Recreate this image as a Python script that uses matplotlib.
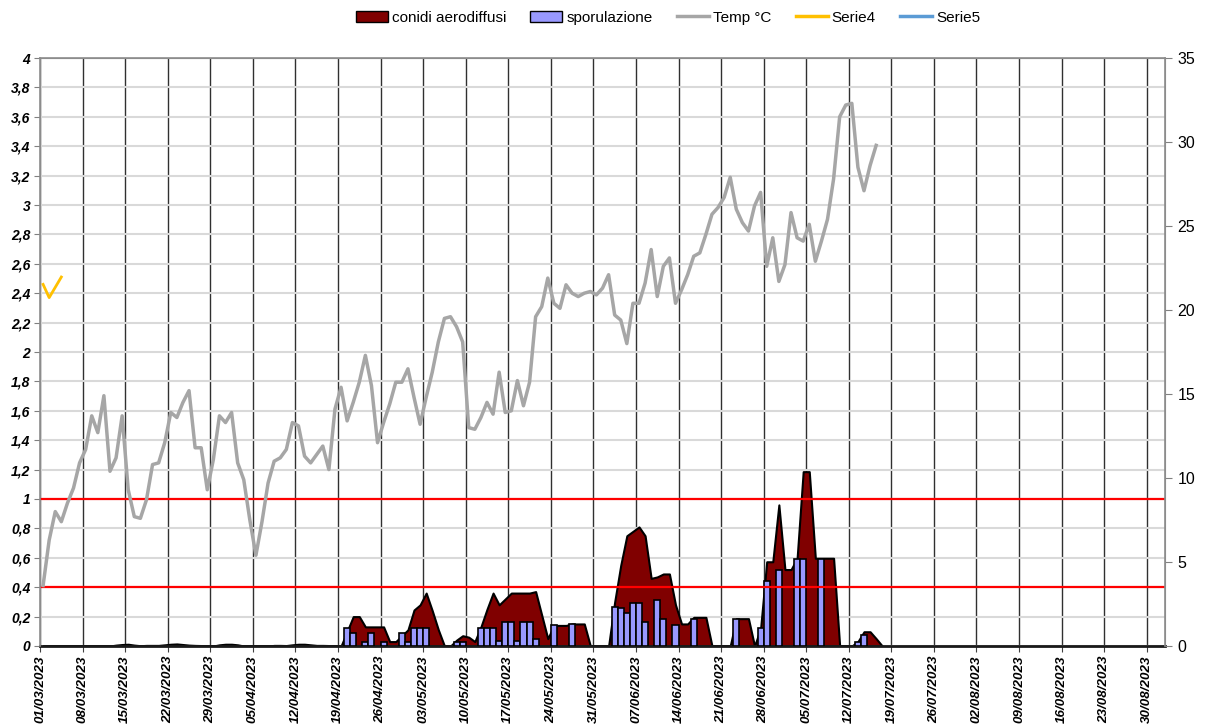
import matplotlib.pyplot as plt
import matplotlib.dates as mdates
from matplotlib.patches import Patch
from matplotlib.lines import Line2D
from matplotlib.ticker import FuncFormatter, MultipleLocator
import numpy as np
import pandas as pd

plt.rcParams['font.family'] = ['Liberation Sans', 'DejaVu Sans']

# daily readings from 01/03/2023, plotted at midday
start = pd.Timestamp('2023-03-01')

temp_c = [3.6, 6.3, 8.0, 7.4, 8.5, 9.4, 10.9, 11.7, 13.7, 12.7,
          14.9, 10.4, 11.2, 13.7, 9.3, 7.7, 7.6, 8.7, 10.8, 10.9,
          12.1, 13.9, 13.6, 14.5, 15.2, 11.8, 11.8, 9.3, 11.1, 13.7,
          13.3, 13.9, 10.9, 9.9, 7.5, 5.4, 7.4, 9.7, 11.0, 11.2,
          11.7, 13.3, 13.1, 11.3, 10.9, 11.4, 11.9, 10.5, 14.1, 15.4,
          13.4, 14.5, 15.7, 17.3, 15.5, 12.1, 13.3, 14.4, 15.7, 15.7,
          16.5, 14.8, 13.2, 14.8, 16.3, 18.1, 19.5, 19.6, 19.0, 18.1,
          13.0, 12.9, 13.6, 14.5, 13.8, 16.3, 13.9, 14.0, 15.8, 14.3,
          15.7, 19.6, 20.2, 21.9, 20.4, 20.1, 21.5, 21.0, 20.8, 21.0,
          21.1, 20.9, 21.3, 22.1, 19.7, 19.4, 18.0, 20.4, 20.4, 21.6,
          23.6, 20.8, 22.6, 23.1, 20.4, 21.2, 22.1, 23.2, 23.4, 24.5,
          25.7, 26.1, 26.7, 27.9, 26.0, 25.2, 24.7, 26.2, 27.0, 22.6,
          24.3, 21.7, 22.7, 25.8, 24.3, 24.1, 25.1, 22.9, 24.1, 25.4,
          27.8, 31.5, 32.2, 32.3, 28.5, 27.1, 28.6, 29.8]

conidi = [0, 0, 0, 0, 0, 0, 0, 0, 0, 0,
          0, 0, 0.006, 0.01, 0.012, 0.006, 0.002, 0.004, 0.004, 0.004,
          0.008, 0.012, 0.014, 0.01, 0.006, 0.004, 0.003, 0, 0, 0.008,
          0.012, 0.012, 0.008, 0, 0, 0, 0, 0, 0.004, 0.004,
          0.003, 0.008, 0.012, 0.012, 0.008, 0.004, 0.004, 0.003, 0, 0,
          0.10, 0.20, 0.20, 0.13, 0.13, 0.13, 0.13, 0.03, 0.03, 0.07,
          0.11, 0.245, 0.28, 0.36, 0.24, 0.11, 0, 0, 0.04, 0.07,
          0.06, 0.03, 0.13, 0.25, 0.36, 0.28, 0.32, 0.36, 0.36, 0.36,
          0.36, 0.37, 0.21, 0.05, 0.14, 0.14, 0.14, 0.15, 0.15, 0.15,
          0, 0, 0, 0, 0.30, 0.55, 0.75, 0.78, 0.81, 0.75,
          0.46, 0.47, 0.49, 0.49, 0.28, 0.15, 0.15, 0.195, 0.195, 0.195,
          0, 0, 0, 0, 0.186, 0.186, 0.186, 0, 0.12, 0.573,
          0.573, 0.96, 0.52, 0.52, 0.597, 1.186, 1.186, 0.597, 0.597, 0.597,
          0.597, 0, 0, 0, 0.03, 0.097, 0.097, 0.05, 0]

spor_days = [50, 51, 53, 54, 56, 59, 60, 61, 62, 63,
             68, 69, 72, 73, 74, 75, 76, 77, 78, 79,
             80, 81, 84, 87, 94, 95, 96, 97, 98, 99,
             101, 102, 104, 107, 114, 118, 119, 121, 124, 125,
             128, 134, 135]
spor_vals = [0.12, 0.09, 0.03, 0.09, 0.03, 0.09, 0.03, 0.12, 0.12, 0.12,
             0.03, 0.03, 0.12, 0.12, 0.12, 0.035, 0.16, 0.16, 0.035, 0.16,
             0.16, 0.05, 0.14, 0.15, 0.267, 0.256, 0.222, 0.29, 0.29, 0.163,
             0.31, 0.186, 0.146, 0.186, 0.186, 0.122, 0.44, 0.515, 0.59, 0.59,
             0.59, 0.027, 0.073]

serie4_days = [0, 1, 3]
serie4_vals = [2.46, 2.37, 2.51]
serie5_days = []
serie5_vals = []

soglie = [0.4, 1.0]


def to_dates(days):
    return start + pd.to_timedelta(np.asarray(days, dtype=float) + 0.5, unit='D')


t_dates = to_dates(np.arange(len(temp_c)))
c_dates = to_dates(np.arange(len(conidi)))

fig = plt.figure(figsize=(12.1, 7.26), dpi=100)
ax = fig.add_axes([0.0331, 0.1102, 0.9297, 0.8099])
ax2 = ax.twinx()

ax.fill_between(c_dates, conidi, 0, facecolor='#800000', edgecolor='black',
                linewidth=1.5, zorder=2)
ax.bar(to_dates(spor_days), spor_vals, width=1.0, color='#9999ff',
       edgecolor='black', linewidth=1.2, zorder=3)
for s in soglie:
    ax.axhline(s, color='#ff0000', linewidth=1.6, zorder=4)
ax.plot(to_dates(serie4_days), serie4_vals, color='#ffc000', linewidth=2, zorder=5)
ax.plot(to_dates(serie5_days), serie5_vals, color='#5b9bd5', linewidth=2, zorder=5)

ax2.plot(t_dates, temp_c, color='#a6a6a6', linewidth=2.5)

# axes ranges
ax.set_xlim(start, start + pd.Timedelta(days=185))
ax.set_ylim(0, 4)
ax2.set_ylim(0, 35)

ticks = pd.date_range('2023-03-01', '2023-08-30', freq='7D')
ax.set_xticks(ticks)
ax.xaxis.set_major_formatter(mdates.DateFormatter('%d/%m/%Y'))
ax.yaxis.set_major_locator(MultipleLocator(0.2))
ax.yaxis.set_major_formatter(FuncFormatter(lambda v, p: ('%g' % round(v, 1)).replace('.', ',')))
ax2.yaxis.set_major_locator(MultipleLocator(5))

for lab in ax.get_xticklabels():
    lab.set_rotation(90)
    lab.set_fontweight('bold')
    lab.set_fontstyle('italic')
    lab.set_fontsize(9.6)
for lab in ax.get_yticklabels():
    lab.set_fontweight('bold')
    lab.set_fontstyle('italic')
    lab.set_fontsize(10)
ax2.tick_params(axis='y', labelsize=11.5, length=5, color='#808080', pad=4)
ax.tick_params(axis='y', length=4, color='#808080', pad=3)
ax.tick_params(axis='x', length=4, color='#404040', pad=3)

ax.set_axisbelow(True)
ax.grid(axis='y', color='#d9d9d9', linewidth=1.5)
ax.grid(axis='x', color='#303030', linewidth=1.0)

for sp in ['left', 'right', 'top']:
    ax.spines[sp].set_color('#8c8c8c')
    ax2.spines[sp].set_color('#8c8c8c')
    ax2.spines[sp].set_linewidth(1.2)
ax.spines['bottom'].set_color('#1a1a1a')
ax.spines['bottom'].set_linewidth(2)
ax2.spines['bottom'].set_visible(False)

handles = [Patch(facecolor='#800000', edgecolor='black'),
           Patch(facecolor='#9999ff', edgecolor='black'),
           Line2D([], [], color='#a6a6a6', linewidth=2.5),
           Line2D([], [], color='#ffc000', linewidth=2.5),
           Line2D([], [], color='#5b9bd5', linewidth=2.5)]
labels = ['conidi aerodiffusi', 'sporulazione', 'Temp °C', 'Serie4', 'Serie5']
fig.legend(handles, labels, loc='upper center', bbox_to_anchor=(0.552, 1.004),
           ncol=5, frameon=False, prop={'size': 11},
           handlelength=2.1, handletextpad=0.25, columnspacing=1.6)

fig.savefig('out.png', dpi=100)
